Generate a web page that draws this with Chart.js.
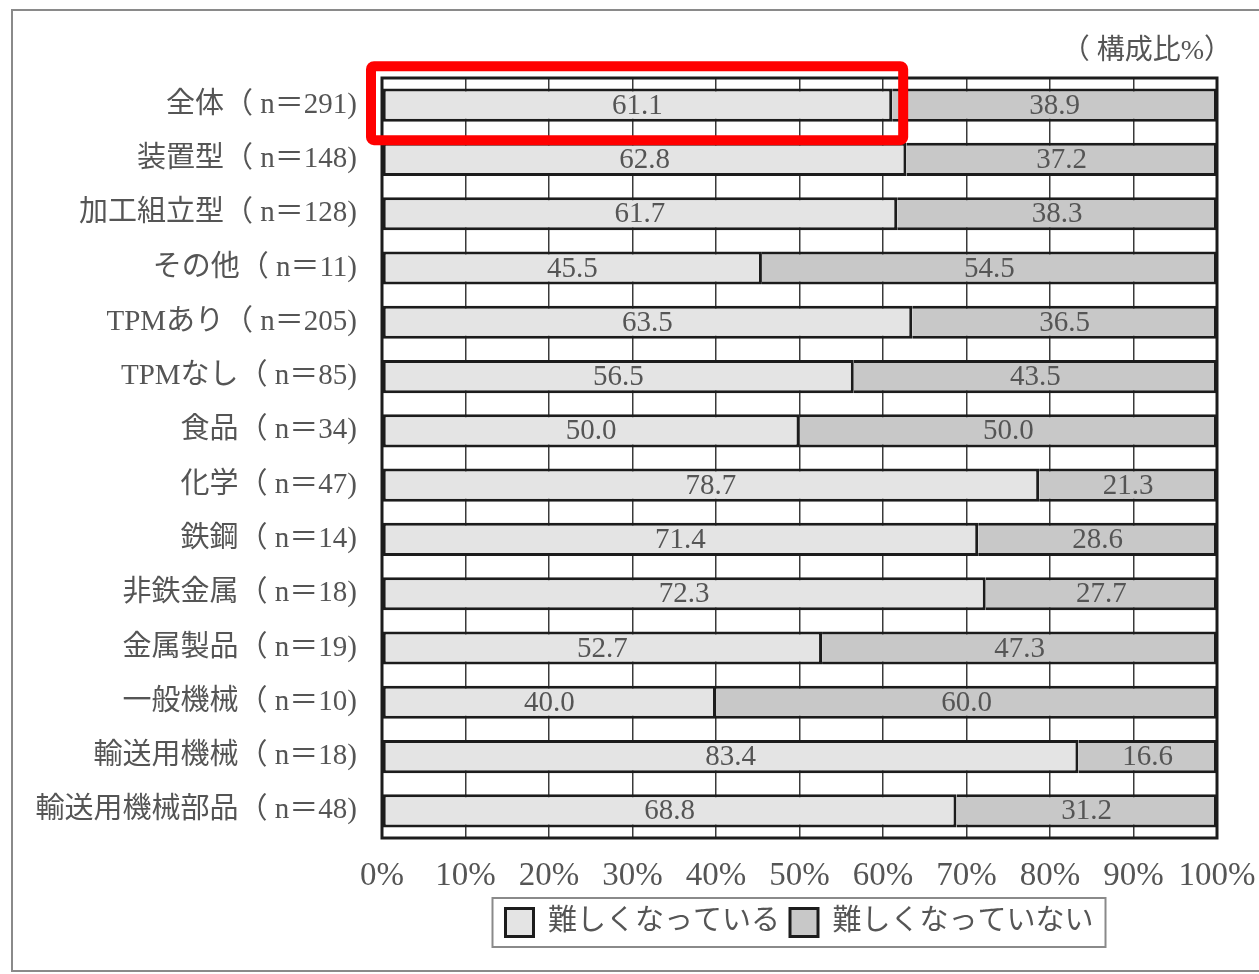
<!DOCTYPE html>
<html lang="ja">
<head>
<meta charset="utf-8">
<title>構成比</title>
<script src="https://cdn.jsdelivr.net/npm/chart.js@4/dist/chart.umd.min.js"></script>
<style>
  html, body { margin: 0; padding: 0; background: #ffffff; }
  #wrap { width: 1259px; height: 974px; position: relative; }
</style>
</head>
<body>
<div id="wrap"><canvas id="chart" width="1259" height="974"></canvas></div>
<script>
// Categories (respondent groups with sample sizes)
const categories = [
  "全体（ n＝291)",
  "装置型（ n＝148)",
  "加工組立型（ n＝128)",
  "その他（ n＝11)",
  "TPMあり（ n＝205)",
  "TPMなし（ n＝85)",
  "食品（ n＝34)",
  "化学（ n＝47)",
  "鉄鋼（ n＝14)",
  "非鉄金属（ n＝18)",
  "金属製品（ n＝19)",
  "一般機械（ n＝10)",
  "輸送用機械（ n＝18)",
  "輸送用機械部品（ n＝48)"
];

// Share of answers, percent
const difficult    = [61.1, 62.8, 61.7, 45.5, 63.5, 56.5, 50.0, 78.7, 71.4, 72.3, 52.7, 40.0, 83.4, 68.8];
const notDifficult = [38.9, 37.2, 38.3, 54.5, 36.5, 43.5, 50.0, 21.3, 28.6, 27.7, 47.3, 60.0, 16.6, 31.2];

const seriesNames = ["難しくなっている", "難しくなっていない"];
const xTicks = [0, 10, 20, 30, 40, 50, 60, 70, 80, 90, 100];
const unitNote = "（ 構成比%）";

const FONT = "'Liberation Serif', 'Noto Sans CJK JP', serif";
const TEXT = "#555555";
const EDGE = "#1c1c1c";

// Outer frame, plot frame, unit note and highlight box
const decorations = {
  id: "decorations",
  beforeDraw(chart) {
    const ctx = chart.ctx;
    ctx.save();
    ctx.strokeStyle = "#8a8a8a";
    ctx.lineWidth = 2;
    ctx.strokeRect(12, 10, 1300, 961);
    ctx.restore();
  },
  afterDraw(chart) {
    const ctx = chart.ctx;
    const a = chart.chartArea;
    const xs = chart.scales.x;
    ctx.save();
    // plot frame
    ctx.strokeStyle = EDGE;
    ctx.lineWidth = 3;
    ctx.strokeRect(a.left, a.top, a.right - a.left, a.bottom - a.top);

    // unit note
    ctx.fillStyle = TEXT;
    ctx.font = "28px " + FONT;
    ctx.textAlign = "right";
    ctx.textBaseline = "middle";
    ctx.fillText(unitNote, a.right + 15, 52);

    // legend frame
    const lg = chart.legend;
    if (lg && lg.legendHitBoxes && lg.legendHitBoxes.length) {
      const hb = lg.legendHitBoxes;
      const l = hb[0].left - 13;
      const r = hb[hb.length - 1].left + hb[hb.length - 1].width + 12;
      ctx.strokeStyle = "#8a8a8a";
      ctx.lineWidth = 2;
      ctx.strokeRect(l, lg.top, r - l, lg.bottom - lg.top);
    }

    // highlight around the first segment of the first row
    const bar = chart.getDatasetMeta(0).data[0];
    const x0 = xs.getPixelForValue(0) - 11;
    const x1 = xs.getPixelForValue(difficult[0]) + 11;
    const y0 = bar.y - 39;
    const y1 = bar.y + 35;
    ctx.strokeStyle = "#ff0000";
    ctx.lineWidth = 10;
    ctx.lineJoin = "round";
    ctx.beginPath();
    if (ctx.roundRect) ctx.roundRect(x0, y0, x1 - x0, y1 - y0, 3);
    else ctx.rect(x0, y0, x1 - x0, y1 - y0);
    ctx.stroke();
    ctx.restore();
  }
};

// Value labels centred in each bar segment
const valueLabels = {
  id: "valueLabels",
  afterDatasetsDraw(chart) {
    const ctx = chart.ctx;
    ctx.save();
    ctx.fillStyle = TEXT;
    ctx.font = "29px " + FONT;
    ctx.textAlign = "center";
    ctx.textBaseline = "middle";
    chart.data.datasets.forEach((ds, di) => {
      const meta = chart.getDatasetMeta(di);
      meta.data.forEach((el, i) => {
        const cx = (el.x + el.base) / 2;
        ctx.fillText(ds.data[i].toFixed(1), cx, el.y + 1);
      });
    });
    ctx.restore();
  }
};

new Chart(document.getElementById("chart"), {
  type: "bar",
  data: {
    labels: categories,
    datasets: [
      {
        label: seriesNames[0],
        data: difficult,
        backgroundColor: "#e4e4e4",
        borderColor: EDGE,
        borderWidth: 3,
        borderSkipped: false,
        barPercentage: 0.61,
        categoryPercentage: 1.0
      },
      {
        label: seriesNames[1],
        data: notDifficult,
        backgroundColor: "#c8c8c8",
        borderColor: EDGE,
        borderWidth: 3,
        borderSkipped: "start",
        barPercentage: 0.61,
        categoryPercentage: 1.0
      }
    ]
  },
  options: {
    indexAxis: "y",
    responsive: false,
    animation: false,
    events: [],
    layout: { padding: { left: 0, right: 42, top: 78, bottom: 27 } },
    scales: {
      x: {
        stacked: true,
        min: 0,
        max: 100,
        afterBuildTicks(scale) { scale.ticks = xTicks.map(v => ({ value: v })); },
        afterFit(scale) {
          scale.height = 60;
          scale.paddingLeft = 0;
          scale.paddingRight = 0;
        },
        grid: { color: "#3a3a3a", lineWidth: 1.5, drawTicks: false },
        border: { display: false },
        ticks: {
          padding: 19,
          color: TEXT,
          font: { family: FONT, size: 33 },
          callback: v => v + "%"
        }
      },
      y: {
        stacked: true,
        afterFit(scale) {
          scale.width = 382;
          scale.paddingTop = 0;
          scale.paddingBottom = 0;
        },
        grid: { display: false },
        border: { display: false },
        ticks: {
          padding: 17,
          color: TEXT,
          font: { family: FONT, size: 29 }
        }
      }
    },
    plugins: {
      title: { display: false },
      tooltip: { enabled: false },
      legend: {
        position: "bottom",
        fullSize: false,
        labels: {
          color: TEXT,
          font: { family: FONT, size: 29 },
          boxWidth: 28,
          boxHeight: 28,
          padding: 10
        }
      }
    }
  },
  plugins: [decorations, valueLabels]
});
</script>
</body>
</html>
